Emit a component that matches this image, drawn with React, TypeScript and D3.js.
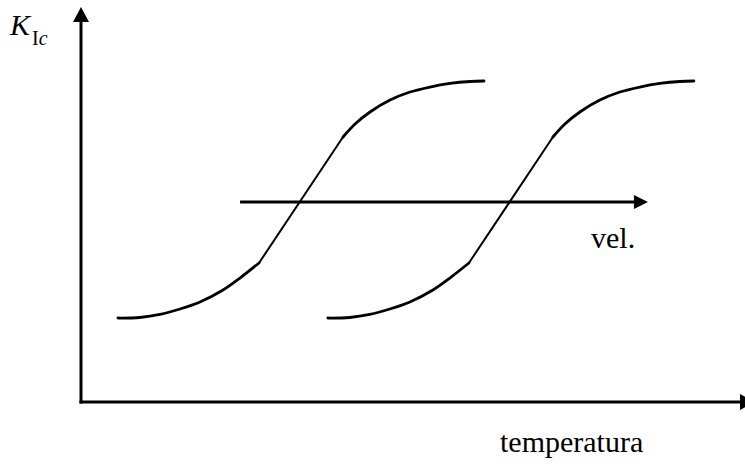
import React from "react";
import * as d3 from "d3";

// Curve 1 (temperature, K_Ic) — lower tail, straight transition, upper shelf
const lowerShelf: [number, number][] = [
  [5.6, 22.1], [8.9, 22.24], [11.97, 23.03], [15.0, 24.47], [18.03, 26.32],
  [21.52, 29.47], [24.09, 32.63], [26.97, 36.58],
];
const transition: [number, number][] = [
  [26.97, 36.58], [39.7, 69.74],
];
const upperShelf: [number, number][] = [
  [39.7, 69.74], [41.52, 73.16], [43.79, 76.32], [46.82, 79.47], [49.85, 81.58],
  [52.88, 82.89], [55.91, 83.82], [58.94, 84.34], [61.06, 84.47],
];
// horizontal shift of the curve for higher loading rate
const curveShifts = [0, 31.8];
// arrow for increasing rate
const rateArrow = { x0: 24.1, x1: 85.9, y: 52.6 };

const W = 745;
const H = 466;

export default function App() {
  const x = d3.scaleLinear().domain([0, 100]).range([81, 741]);
  const y = d3.scaleLinear().domain([0, 100]).range([402, 22]);

  const smooth = d3
    .line<[number, number]>()
    .x((d) => x(d[0]))
    .y((d) => y(d[1]))
    .curve(d3.curveCatmullRom.alpha(0.5));
  const straight = d3
    .line<[number, number]>()
    .x((d) => x(d[0]))
    .y((d) => y(d[1]));

  const shift = (pts: [number, number][], dx: number) =>
    pts.map((p) => [p[0] + dx, p[1]] as [number, number]);

  const ax0 = x(0);
  const ay0 = y(0);
  const ax = x(rateArrow.x0);
  const axEnd = x(rateArrow.x1);
  const ay = y(rateArrow.y);

  return (
    <svg
      width={W}
      height={H}
      style={{ position: "absolute", left: 0, top: 0, background: "#fff" }}
      fontFamily="'Liberation Serif', 'Times New Roman', serif"
    >
      {/* axes */}
      <line x1={ax0} y1={ay0 + 1.5} x2={ax0} y2={20} stroke="#000" strokeWidth={3} />
      <path d={`M${ax0 - 8},${22} L${ax0},${7} L${ax0 + 8},${22} Z`} fill="#000" />
      <line x1={ax0 - 1.5} y1={ay0} x2={742} y2={ay0} stroke="#000" strokeWidth={3} />
      <path d={`M${740},${ay0 - 8} L${755},${ay0} L${740},${ay0 + 8} Z`} fill="#000" />

      {/* curves */}
      {curveShifts.map((dx, i) => (
        <g key={i} fill="none" stroke="#000" strokeWidth={2.8} strokeLinecap="round">
          <path d={smooth(shift(lowerShelf, dx)) || ""} />
          <path d={straight(shift(transition, dx)) || ""} strokeWidth={2} />
          <path d={smooth(shift(upperShelf, dx)) || ""} />
        </g>
      ))}

      {/* rate arrow */}
      <line x1={ax} y1={ay} x2={axEnd - 12} y2={ay} stroke="#000" strokeWidth={3} />
      <path d={`M${axEnd - 14},${ay - 7} L${axEnd},${ay} L${axEnd - 14},${ay + 7} Z`} fill="#000" />

      {/* labels */}
      <text x={591} y={248} fontSize={30} fill="#000">vel.</text>
      <text x={500} y={452} fontSize={30} fill="#000">temperatura</text>
      <text x={10} y={35} fontSize={30} fontStyle="italic" fill="#000">K</text>
      <text x={32} y={45} fontSize={20} fill="#000">
        I<tspan fontStyle="italic">c</tspan>
      </text>
    </svg>
  );
}
